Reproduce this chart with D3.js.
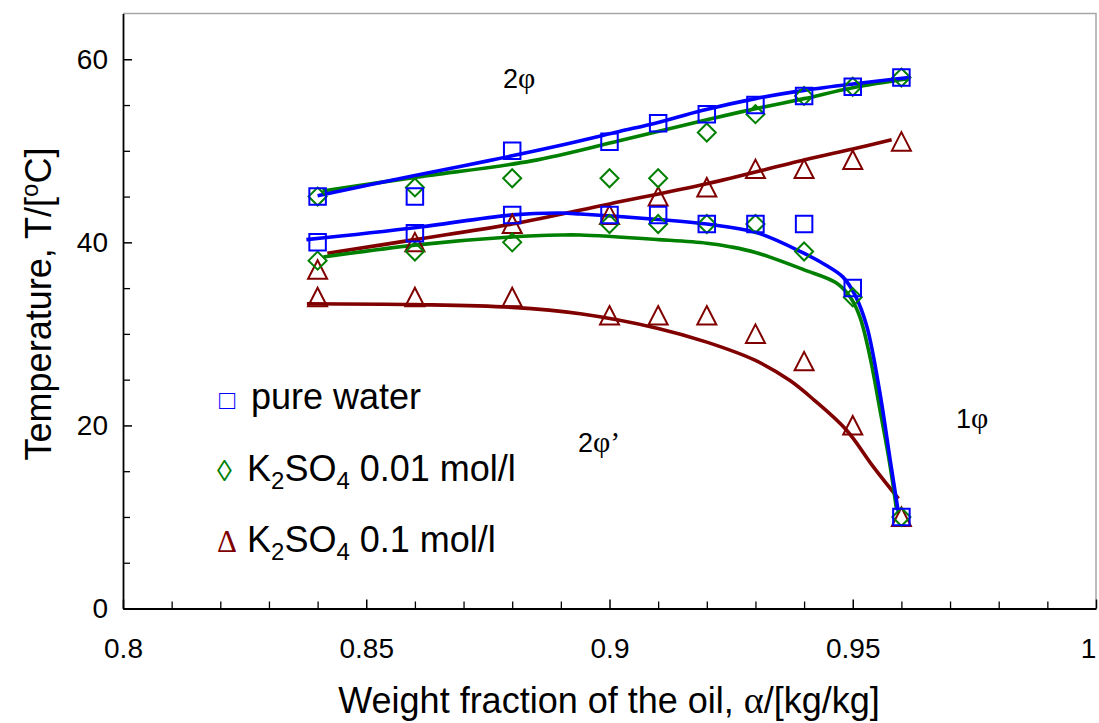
<!DOCTYPE html>
<html>
<head>
<meta charset="utf-8">
<script src="https://cdn.jsdelivr.net/npm/d3@7"></script>
<style>
  html, body { margin: 0; padding: 0; background: #fff; }
  svg { display: block; }
  text { font-family: "Liberation Sans", Arial, sans-serif; fill: #000; }
  .greek { font-family: "Liberation Serif", "Times New Roman", serif; }
</style>
</head>
<body>
<svg id="chart" width="1099" height="723"></svg>
<script>
// Measured compositions (weight fraction of oil)
const alphaPts = [0.84, 0.86, 0.88, 0.90, 0.91, 0.92, 0.93, 0.94, 0.95, 0.96];

// Phase-boundary temperatures, °C (upper and lower boundary)
const waterUpper    = [45, 45, 50, 51, 53, 54, 55, 56, 57, 58];
const waterLower    = [40, 41, 43, 43, 43, 42, 42, 42, 35, 10];
const saltLowUpper  = [45, 46, 47, 47, 47, 52, 54, 56, 57, 58];
const saltLowLower  = [38, 39, 40, 42, 42, 42, 42, 39, 34, 10];
const saltHighUpper = [37, 40, 42, 43, 45, 46, 48, 48, 49, 51];
const saltHighLower = [34, 34, 34, 32, 32, 32, 30, 27, 20, 10];

// Fitted boundary curves, [alpha, T]
const waterUpperFit = [[0.840,45.1],[0.860,47.3],[0.875,48.9],[0.890,50.6],[0.902,52.1],[0.910,53.1],[0.919,54.4],[0.930,55.7],[0.940,56.6],[0.950,57.3],[0.9615,58.0]];
const waterLowerFit = [[0.8377,40.3],[0.860,41.6],[0.880,43.0],[0.890,43.2],[0.894,43.1],[0.910,42.5],[0.920,42.0],[0.930,41.1],[0.9396,38.9],[0.9445,37.5],[0.948,36.2],[0.9505,34.2],[0.9529,30.8],[0.9556,23.5],[0.9577,16.2],[0.9594,10.4]];
const saltLowUpperFit = [[0.841,45.6],[0.860,47.1],[0.884,48.9],[0.902,51.1],[0.920,53.4],[0.930,54.6],[0.940,55.7],[0.950,56.9],[0.9618,57.9]];
const saltLowLowerFit = [[0.8412,38.4],[0.860,39.7],[0.880,40.6],[0.890,40.8],[0.894,40.8],[0.910,40.3],[0.920,39.9],[0.925,39.5],[0.930,38.9],[0.940,37.0],[0.9465,35.6],[0.9495,34.0],[0.9515,31.8],[0.9535,27.6],[0.9556,21.7],[0.9577,15.5],[0.959,10.8]];
const saltHighUpperFit = [[0.842,38.8],[0.860,40.3],[0.880,42.0],[0.900,44.2],[0.920,46.4],[0.940,49.0],[0.950,50.2],[0.958,51.2]];
const saltHighLowerFit = [[0.8378,33.3],[0.860,33.2],[0.880,32.9],[0.894,32.2],[0.910,30.6],[0.920,29.1],[0.930,27.1],[0.9371,24.9],[0.942,22.8],[0.9487,19.5],[0.9542,15.5],[0.9594,12.0]];

// Axis ticks
const xMajorTicks = [0.8, 0.85, 0.9, 0.95, 1.0];
const xTickLabels = ["0.8", "0.85", "0.9", "0.95", "1"];
const yMajorTicks = [0, 20, 40, 60];
const yTickLabels = ["0", "20", "40", "60"];

const BLUE = "#0000ff", GREEN = "#008000", RED = "#800000";

const svg = d3.select("#chart");
const L = 123, R = 1096, T = 13.5, B = 608.5;

const x = d3.scaleLinear().domain([0.8, 1.0]).range([L, R]);
const y = d3.scaleLinear().domain([0, 65]).range([B, T]);

// plot frame (top / right in grey)
svg.append("path")
  .attr("d", `M${L},${T}H${R}V${B}`)
  .attr("fill", "none").attr("stroke", "#a6a6a6").attr("stroke-width", 1.5);

// minor ticks
const xMinor = d3.range(81, 100).map(d => d / 100).filter(d => Math.abs(d * 20 - Math.round(d * 20)) > 1e-6);
const yMinor = d3.range(5, 65, 5).filter(d => d % 20 !== 0);

svg.append("g").attr("transform", `translate(0,${B})`)
  .call(d3.axisBottom(x).tickValues(xMinor).tickSize(-7).tickFormat(""))
  .call(g => g.select(".domain").remove())
  .call(g => g.selectAll("line").attr("stroke", "#000").attr("stroke-width", 1.3));

svg.append("g").attr("transform", `translate(${L},0)`)
  .call(d3.axisLeft(y).tickValues(yMinor).tickSize(-7).tickFormat(""))
  .call(g => g.select(".domain").remove())
  .call(g => g.selectAll("line").attr("stroke", "#000").attr("stroke-width", 1.3));

// major axes
const xAxis = svg.append("g").attr("transform", `translate(0,${B})`)
  .call(d3.axisBottom(x).tickValues(xMajorTicks).tickSize(-9).tickSizeOuter(0)
    .tickPadding(30).tickFormat((d, i) => xTickLabels[i]));
xAxis.select(".domain").attr("stroke", "#000").attr("stroke-width", 1.8);
xAxis.selectAll("line").attr("stroke", "#000").attr("stroke-width", 1.5);
xAxis.selectAll("text").attr("font-size", 28).attr("font-family", "Liberation Sans, Arial, sans-serif").attr("fill", "#000")
  .attr("dx", d => d === 1.0 ? -8 : 0);

const yAxis = svg.append("g").attr("transform", `translate(${L},0)`)
  .call(d3.axisLeft(y).tickValues(yMajorTicks).tickSize(-9).tickSizeOuter(0)
    .tickPadding(15).tickFormat((d, i) => yTickLabels[i]));
yAxis.select(".domain").attr("stroke", "#000").attr("stroke-width", 1.8);
yAxis.selectAll("line").attr("stroke", "#000").attr("stroke-width", 1.5);
yAxis.selectAll("text").attr("font-size", 28).attr("font-family", "Liberation Sans, Arial, sans-serif").attr("fill", "#000");

// fitted curves
const line = d3.line().x(d => x(d[0])).y(d => y(d[1])).curve(d3.curveCatmullRom.alpha(0.5));
const fits = [
  [saltHighLowerFit, RED], [saltHighUpperFit, RED],
  [saltLowLowerFit, GREEN], [saltLowUpperFit, GREEN],
  [waterLowerFit, BLUE], [waterUpperFit, BLUE]
];
fits.forEach(([data, color]) => {
  svg.append("path").datum(data).attr("d", line)
    .attr("fill", "none").attr("stroke", color).attr("stroke-width", 3.6)
    .attr("stroke-linecap", "butt").attr("stroke-linejoin", "round");
});

// markers
const squarePath = d3.symbol().type(d3.symbolSquare).size(16.5 * 16.5)();
const diamondPath = "M0,-9L9,0L0,9L-9,0Z";
const trianglePath = "M0,-9.5L9.5,9L-9.5,9Z";

function drawMarkers(values, pathD, color) {
  svg.append("g").selectAll("path")
    .data(alphaPts.map((a, i) => [a, values[i]]))
    .join("path")
    .attr("d", pathD)
    .attr("transform", d => `translate(${x(d[0])},${y(d[1])})`)
    .attr("fill", "none").attr("stroke", color).attr("stroke-width", 2);
}
drawMarkers(saltHighUpper, trianglePath, RED);
drawMarkers(saltHighLower, trianglePath, RED);
drawMarkers(saltLowUpper, diamondPath, GREEN);
drawMarkers(saltLowLower, diamondPath, GREEN);
drawMarkers(waterUpper, squarePath, BLUE);
drawMarkers(waterLower, squarePath, BLUE);

// legend
const legend = svg.append("g").attr("font-size", 36);
const l1 = legend.append("text").attr("x", 219).attr("y", 409);
l1.append("tspan").attr("fill", BLUE).attr("font-size", 27).text("\u25A1");
l1.append("tspan").attr("x", 251).text("pure water");

const l2 = legend.append("text").attr("x", 217).attr("y", 481);
l2.append("tspan").attr("fill", GREEN).attr("font-size", 30).text("\u25CA");
l2.append("tspan").attr("x", 247).text("K");
l2.append("tspan").attr("font-size", 24).attr("dy", 8).text("2");
l2.append("tspan").attr("dy", -8).text("SO");
l2.append("tspan").attr("font-size", 24).attr("dy", 8).text("4");
l2.append("tspan").attr("dy", -8).text(" 0.01 mol/l");

const l3 = legend.append("text").attr("x", 217).attr("y", 552);
l3.append("tspan").attr("class", "greek").attr("fill", RED).attr("font-size", 31).text("\u0394");
l3.append("tspan").attr("x", 247).text("K");
l3.append("tspan").attr("font-size", 24).attr("dy", 8).text("2");
l3.append("tspan").attr("dy", -8).text("SO");
l3.append("tspan").attr("font-size", 24).attr("dy", 8).text("4");
l3.append("tspan").attr("dy", -8).text(" 0.1 mol/l");

// phase-region labels
function phaseLabel(px, py, num, suffix) {
  const t = svg.append("text").attr("x", px).attr("y", py).attr("font-size", 27);
  t.append("tspan").text(num);
  t.append("tspan").attr("class", "greek").attr("font-size", 30).text("\u03C6" + suffix);
}
phaseLabel(503, 88, "2", "");
phaseLabel(578, 452, "2", "\u2019");
phaseLabel(956, 428, "1", "");

// axis titles
const xt = svg.append("text").attr("x", 609).attr("y", 713).attr("text-anchor", "middle").attr("font-size", 36);
xt.append("tspan").text("Weight fraction of the oil, ");
xt.append("tspan").attr("class", "greek").attr("font-size", 38).text("\u03B1");
xt.append("tspan").text("/[kg/kg]");

const yt = svg.append("text").attr("transform", "translate(51,304) rotate(-90)")
  .attr("text-anchor", "middle").attr("font-size", 36);
yt.append("tspan").text("Temperature, T/[");
yt.append("tspan").attr("font-size", 24).attr("dy", -13).text("o");
yt.append("tspan").attr("dy", 13).text("C]");
</script>
</body>
</html>
